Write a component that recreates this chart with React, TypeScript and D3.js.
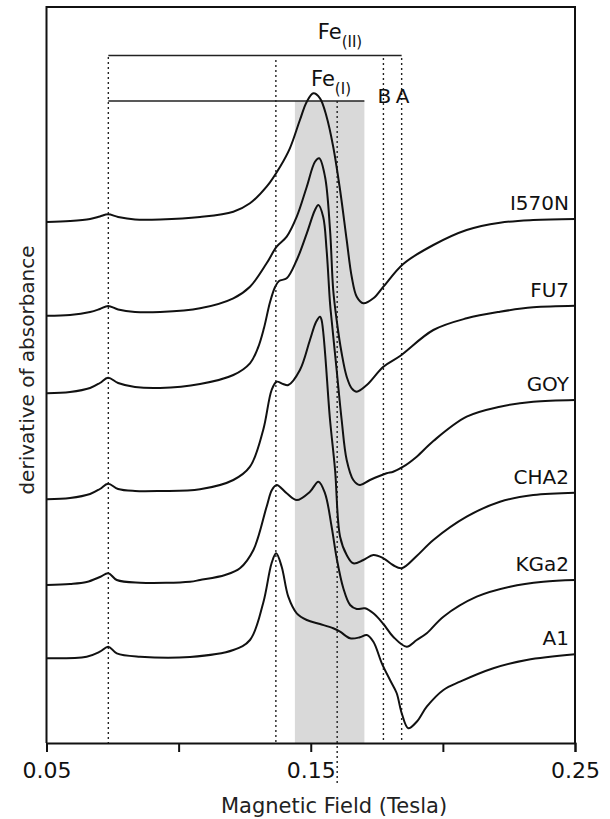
import React, { useEffect, useRef } from 'react';
import * as d3 from 'd3';

// EPR spectra: [magnetic field (T), derivative of absorbance (a.u., stacked)]
const I570N = [[0.0502, 521], [0.0589, 522], [0.0665, 524], [0.0702, 526.5], [0.0733, 528.7], [0.0771, 526], [0.0835, 523.5], [0.0930, 523.5], [0.1081, 526], [0.1207, 531.3], [0.1270, 539.7], [0.1333, 556.3], [0.1384, 576.3], [0.1421, 594.7], [0.1459, 623], [0.1485, 641.3], [0.1510, 649.7], [0.1535, 644.7], [0.1560, 626.3], [0.1585, 596.3], [0.1611, 553], [0.1636, 503], [0.1655, 466.3], [0.1674, 446.3], [0.1699, 439.7], [0.1737, 444.7], [0.1775, 456.3], [0.1850, 479], [0.1964, 498], [0.2090, 513], [0.2216, 520.3], [0.2342, 523], [0.2500, 524]];
const FU7 = [[0.0502, 427.3], [0.0589, 428], [0.0665, 431], [0.0702, 434], [0.0733, 437], [0.0771, 433.5], [0.0835, 431], [0.0930, 431], [0.1081, 434.7], [0.1207, 444.7], [0.1270, 456.3], [0.1333, 479.7], [0.1371, 496.3], [0.1409, 506.3], [0.1447, 526.3], [0.1485, 556.3], [0.1516, 581.3], [0.1532, 584.7], [0.1554, 566.3], [0.1573, 513], [0.1585, 453], [0.1598, 423], [0.1617, 389.7], [0.1636, 366.3], [0.1655, 354.7], [0.1674, 351.3], [0.1712, 358], [0.1775, 376.3], [0.1838, 387], [0.1964, 413], [0.2090, 424.7], [0.2216, 431.3], [0.2342, 435.7], [0.2500, 437.3]];
const GOY = [[0.0502, 349.7], [0.0589, 351], [0.0665, 355], [0.0702, 360], [0.0733, 365.3], [0.0771, 360], [0.0835, 356], [0.0930, 355], [0.1081, 359], [0.1207, 368], [0.1270, 379.7], [0.1300, 395], [0.1323, 415], [0.1346, 441], [0.1365, 456], [0.1380, 462], [0.1409, 464.7], [0.1447, 483], [0.1485, 509.7], [0.1516, 533], [0.1529, 538], [0.1547, 526.3], [0.1560, 493], [0.1573, 439.7], [0.1579, 423], [0.1598, 373], [0.1617, 323], [0.1636, 283], [0.1661, 263], [0.1686, 258], [0.1724, 263], [0.1787, 269.7], [0.1812, 271.3], [0.1850, 276.3], [0.1901, 286.3], [0.1964, 302], [0.2090, 326.3], [0.2216, 336.3], [0.2342, 341.3], [0.2500, 343]];
const CHA2 = [[0.0502, 243.7], [0.0589, 245], [0.0665, 249], [0.0702, 254], [0.0733, 259.3], [0.0771, 254], [0.0835, 252], [0.0930, 252], [0.1081, 253.7], [0.1207, 263], [0.1270, 276.3], [0.1320, 313], [0.1352, 353], [0.1371, 361.3], [0.1395, 359], [0.1415, 358], [0.1459, 373], [0.1497, 403], [0.1520, 421], [0.1535, 426.3], [0.1541, 423], [0.1573, 323], [0.1592, 273], [0.1611, 206.3], [0.1636, 188], [0.1661, 179.7], [0.1699, 183], [0.1737, 188], [0.1775, 184.7], [0.1811, 178], [0.1844, 174.7], [0.1901, 187], [0.1964, 203], [0.2090, 226.3], [0.2216, 241.3], [0.2342, 248], [0.2500, 250.3]];
const KGa2 = [[0.0502, 158], [0.0589, 159], [0.0652, 161], [0.0702, 166], [0.0734, 169.7], [0.0766, 163], [0.0854, 160.3], [0.1043, 161.3], [0.1081, 163], [0.1176, 168], [0.1232, 174.7], [0.1283, 193], [0.1333, 236.3], [0.1353, 253], [0.1371, 258], [0.1409, 249.7], [0.1447, 243], [0.1497, 251.3], [0.1529, 261.3], [0.1554, 249.7], [0.1579, 216.3], [0.1598, 185], [0.1623, 155], [0.1649, 138], [0.1674, 134], [0.1705, 134.7], [0.1737, 129.7], [0.1775, 119], [0.1812, 106.3], [0.1863, 96.3], [0.1901, 103], [0.1939, 109.7], [0.2002, 126.3], [0.2128, 146.3], [0.2254, 156.3], [0.2380, 161.3], [0.2500, 163]];
const A1 = [[0.0502, 84.7], [0.0652, 86.3], [0.0702, 91.3], [0.0734, 96.3], [0.0766, 89.7], [0.0854, 86.3], [0.1043, 86], [0.1207, 93], [0.1270, 103], [0.1320, 140], [0.1352, 180], [0.1369, 189.7], [0.1390, 176.3], [0.1415, 146.3], [0.1447, 129.7], [0.1485, 123], [0.1535, 119], [0.1585, 114.7], [0.1611, 111.3], [0.1649, 104.7], [0.1686, 105.7], [0.1712, 108], [0.1737, 101.3], [0.1769, 79.7], [0.1800, 63], [0.1825, 50], [0.1844, 30], [0.1869, 14.7], [0.1901, 21.3], [0.1939, 36.3], [0.2002, 53], [0.2065, 61.3], [0.2191, 74.7], [0.2317, 83], [0.2500, 88.7]];

const sampleNames = ['I570N', 'FU7', 'GOY', 'CHA2', 'KGa2', 'A1'];
const spectra = [I570N, FU7, GOY, CHA2, KGa2, A1];

const fieldTicks = [0.05, 0.1, 0.15, 0.2, 0.25];
const tickLabels = ['0.05', '', '0.15', '', '0.25'];

// reference field positions (T)
const markerFields = [0.0734, 0.1368, 0.1600, 0.1775, 0.1844];
const feIBand = [0.1440, 0.1703];
const feIIRange = [0.0734, 0.1844];
const feIRange = [0.0734, 0.1703];

export default function App() {
    const svgRef = useRef(null);

    const width = 610, height = 819;
    const left = 46.5, right = 575, top = 7, bottom = 743;
    const font = 'DejaVu Sans, Verdana, sans-serif';

    useEffect(() => {
        const svg = d3.select(svgRef.current);
        svg.selectAll('*').remove();

        const x = d3.scaleLinear().domain([0.05, 0.25]).range([left, right]);
        const y = d3.scaleLinear().domain([0, 736]).range([bottom, top]);

        // shaded Fe(I) band
        svg.append('rect')
            .attr('x', x(feIBand[0])).attr('y', 101)
            .attr('width', x(feIBand[1]) - x(feIBand[0]))
            .attr('height', bottom - 101)
            .attr('fill', '#d9d9d9');

        // dotted reference lines
        const markerTops = [57, 60, 101, 58, 58];
        const markerBottoms = [bottom, bottom, 785, bottom, bottom];
        markerFields.forEach((f, i) => {
            svg.append('line')
                .attr('x1', x(f)).attr('x2', x(f))
                .attr('y1', markerTops[i]).attr('y2', markerBottoms[i])
                .attr('stroke', '#222')
                .attr('stroke-width', 1.4)
                .style('stroke-dasharray', '2,3');
        });

        // Fe(II) / Fe(I) bars
        svg.append('line')
            .attr('x1', x(feIIRange[0])).attr('x2', x(feIIRange[1]))
            .attr('y1', 55.5).attr('y2', 55.5)
            .attr('stroke', '#222').attr('stroke-width', 1.6);
        svg.append('line')
            .attr('x1', x(feIRange[0])).attr('x2', x(feIRange[1]))
            .attr('y1', 101).attr('y2', 101)
            .attr('stroke', '#222').attr('stroke-width', 1.6);

        const feII = svg.append('text')
            .attr('x', 340).attr('y', 39)
            .attr('text-anchor', 'middle')
            .style('font-family', font).style('font-size', '21px').attr('fill', '#111');
        feII.append('tspan').text('Fe');
        feII.append('tspan').attr('dy', 8).style('font-size', '15px').text('(II)');

        const feI = svg.append('text')
            .attr('x', 331).attr('y', 86)
            .attr('text-anchor', 'middle')
            .style('font-family', font).style('font-size', '21px').attr('fill', '#111');
        feI.append('tspan').text('Fe');
        feI.append('tspan').attr('dy', 7.5).style('font-size', '15px').text('(I)');

        [['B', markerFields[3]], ['A', markerFields[4]]].forEach(([t, f]) => {
            svg.append('text')
                .attr('x', x(f as number) + 1).attr('y', 103)
                .attr('text-anchor', 'middle')
                .style('font-family', font).style('font-size', '20px').attr('fill', '#111')
                .text(t as string);
        });

        // spectra
        const line = d3.line()
            .x(d => x(d[0]))
            .y(d => y(d[1]))
            .curve(d3.curveCatmullRom.alpha(0.5));

        spectra.forEach((data, i) => {
            svg.append('path')
                .datum(data)
                .attr('d', line)
                .attr('fill', 'none')
                .attr('stroke', '#111')
                .attr('stroke-width', 2)
                .attr('stroke-linejoin', 'round');

            const last = data[data.length - 1];
            svg.append('text')
                .attr('x', right - 6).attr('y', y(last[1]) - 9)
                .attr('text-anchor', 'end')
                .style('font-family', font).style('font-size', '20px').attr('fill', '#111')
                .text(sampleNames[i]);
        });

        // frame
        svg.append('path')
            .attr('d', `M${left},${bottom}V${top}H${right}V${bottom}`)
            .attr('fill', 'none').attr('stroke', '#111').attr('stroke-width', 2);

        // x axis
        const xAxis = d3.axisBottom(x)
            .tickValues(fieldTicks)
            .tickSize(9)
            .tickFormat((d, i) => tickLabels[i]);

        const gx = svg.append('g')
            .attr('transform', `translate(0,${bottom})`)
            .call(xAxis);
        gx.select('.domain').attr('stroke', '#111').attr('stroke-width', 2);
        gx.selectAll('.tick line').attr('stroke', '#111').attr('stroke-width', 2);
        gx.selectAll('.tick text')
            .attr('y', 35).attr('dy', 0)
            .style('font-family', font).style('font-size', '22px').attr('fill', '#111');

        // axis titles
        svg.append('text')
            .attr('x', 334).attr('y', 813)
            .attr('text-anchor', 'middle')
            .style('font-family', font).style('font-size', '21px').attr('fill', '#222')
            .text('Magnetic Field (Tesla)');

        svg.append('text')
            .attr('transform', `translate(34,370) rotate(-90)`)
            .attr('text-anchor', 'middle')
            .style('font-family', font).style('font-size', '20px').attr('fill', '#222')
            .text('derivative of absorbance');
    }, []);

    return (
        <svg ref={svgRef} width={width} height={height}
             style={{ position: 'absolute', left: 0, top: 0, background: '#fff' }} />
    );
}
